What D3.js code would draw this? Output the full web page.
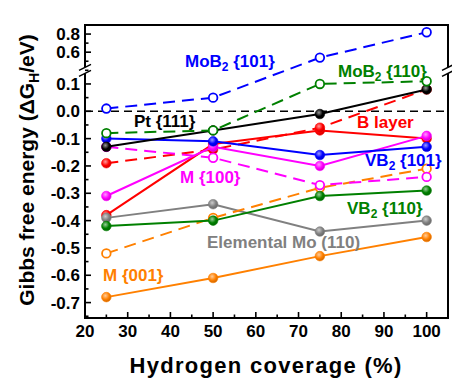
<!DOCTYPE html>
<html>
<head>
<meta charset="utf-8">
<script src="https://cdn.jsdelivr.net/npm/d3@7"></script>
<style>
    body { margin: 0; background: #fff; }
    text { font-family: "Liberation Sans", Arial, sans-serif; font-weight: bold; }
</style>
</head>
<body>
<div id="chart"></div>
<script>
const coverage = [25, 50, 75, 100];

const mob2_101 = [0.01, 0.05, 0.54, 0.82];
const mob2_110 = [-0.08, -0.07, 0.10, 0.11];
const pt111 = [-0.13, -0.07, -0.01, 0.08];
const bLayerSolid = [-0.38, -0.12, -0.07, -0.10];
const bLayerDashed = [-0.19, -0.14, -0.06, 0.08];
const vb2_101 = [-0.10, -0.11, -0.16, -0.13];
const m100Solid = [-0.31, -0.13, -0.20, -0.09];
const m100Dashed = [-0.13, -0.17, -0.27, -0.24];
const vb2_110 = [-0.42, -0.40, -0.31, -0.29];
const elementalMo = [-0.39, -0.34, -0.44, -0.40];
const m001Solid = [-0.68, -0.61, -0.53, -0.46];
const m001Dashed = [-0.52, -0.39, -0.28, -0.21];

const xTicks = [20, 30, 40, 50, 60, 70, 80, 90, 100];
const yTicksLow = [-0.7, -0.6, -0.5, -0.4, -0.3, -0.2, -0.1, 0.0, 0.1];
const yTicksHigh = [0.6, 0.8];

const series = [
    { values: bLayerSolid, color: '#ff0000', dashed: false, open: false },
    { values: bLayerDashed, color: '#ff0000', dashed: true, open: false },
    { values: elementalMo, color: '#808080', dashed: false, open: false },
    { values: m001Solid, color: '#ff8000', dashed: false, open: false },
    { values: m001Dashed, color: '#ff8000', dashed: true, open: true },
    { values: vb2_110, color: '#008000', dashed: false, open: false },
    { values: m100Dashed, color: '#ff00ff', dashed: true, open: true },
    { values: m100Solid, color: '#ff00ff', dashed: false, open: false },
    { values: vb2_101, color: '#0000ff', dashed: false, open: false },
    { values: pt111, color: '#000000', dashed: false, open: false },
    { values: mob2_110, color: '#008000', dashed: true, open: true },
    { values: mob2_101, color: '#0000ff', dashed: true, open: true }
];

const labels = [
    { text: 'MoB', sub: '2', rest: ' {101}', x: 185, y: 67, color: '#0000ff' },
    { text: 'MoB', sub: '2', rest: ' {110}', x: 338, y: 77, color: '#008000' },
    { text: 'Pt {111}', x: 134, y: 127, color: '#000000' },
    { text: 'B layer', x: 357, y: 128, color: '#ff0000' },
    { text: 'VB', sub: '2', rest: ' {101}', x: 365, y: 166, color: '#0000ff' },
    { text: 'M {100}', x: 180, y: 183, color: '#ff00ff' },
    { text: 'VB', sub: '2', rest: ' {110}', x: 347, y: 214, color: '#008000' },
    { text: 'Elemental Mo (110)', x: 207, y: 248, color: '#808080' },
    { text: 'M {001}', x: 103, y: 281, color: '#ff8000' }
];

const W = 452, H = 381;
const pLeft = 85, pRight = 448, pTop = 25, pBottom = 318, breakY = 70.3;

const svg = d3.select('#chart')
    .append('svg')
    .attr('width', W)
    .attr('height', H);

const defs = svg.append('defs');
const colors = Array.from(new Set(series.filter((s) => !s.open).map((s) => s.color)));
colors.forEach((c, i) => {
    const g = defs.append('radialGradient')
        .attr('id', 'ball' + i)
        .attr('cx', '40%').attr('cy', '35%').attr('r', '65%');
    g.append('stop').attr('offset', '0%').attr('stop-color', d3.interpolateRgb(c, '#fff')(0.6));
    g.append('stop').attr('offset', '60%').attr('stop-color', c);
    g.append('stop').attr('offset', '100%').attr('stop-color', d3.color(c).darker(0.6));
});
const ballFill = (c) => 'url(#ball' + colors.indexOf(c) + ')';

const xScale = d3.scaleLinear().domain([20, 105]).range([pLeft, pRight]);
const yLow = d3.scaleLinear().domain([-0.7564, 0.15]).range([pBottom, breakY]);
const yHigh = d3.scaleLinear().domain([0.4, 0.9]).range([breakY, pTop]);
const yPos = (v) => (v > 0.3 ? yHigh(v) : yLow(v));

// 零线
svg.append('line')
    .attr('x1', pLeft).attr('x2', pRight)
    .attr('y1', yLow(0)).attr('y2', yLow(0))
    .attr('stroke', '#000')
    .attr('stroke-width', 1.6)
    .attr('stroke-dasharray', '8,5');

// 曲线
const line = d3.line()
    .x((d, i) => xScale(coverage[i]))
    .y((d) => yPos(d));

series.forEach((s) => {
    svg.append('path')
        .datum(s.values)
        .attr('d', line)
        .attr('fill', 'none')
        .attr('stroke', s.color)
        .attr('stroke-width', 2)
        .attr('stroke-dasharray', s.dashed ? '12,7' : null);

    svg.selectAll(null)
        .data(s.values)
        .enter()
        .append('circle')
        .attr('cx', (d, i) => xScale(coverage[i]))
        .attr('cy', (d) => yPos(d))
        .attr('r', s.open ? 4.3 : 4.8)
        .attr('fill', s.open ? '#fff' : ballFill(s.color))
        .attr('stroke', s.color)
        .attr('stroke-width', s.open ? 1.8 : 0.6);
});

// 坐标轴
const axisG = svg.append('g').attr('stroke', '#000').attr('stroke-width', 2).attr('fill', 'none');
axisG.append('line').attr('x1', pLeft).attr('x2', pRight).attr('y1', pBottom).attr('y2', pBottom);
axisG.append('line').attr('x1', pLeft).attr('x2', pRight).attr('y1', pTop).attr('y2', pTop);
[pLeft, pRight].forEach((x) => {
    axisG.append('line').attr('x1', x).attr('x2', x).attr('y1', pTop - 1).attr('y2', breakY - 3);
    axisG.append('line').attr('x1', x).attr('x2', x).attr('y1', breakY + 3).attr('y2', pBottom + 1);
    [-3, 3].forEach((o) => {
        svg.append('line')
            .attr('x1', x - 6).attr('x2', x + 6)
            .attr('y1', breakY + o + 3).attr('y2', breakY + o - 3)
            .attr('stroke', '#000').attr('stroke-width', 1.5);
    });
});

const tickG = svg.append('g').attr('stroke', '#000').attr('stroke-width', 1.6);
d3.range(20, 105, 5).forEach((v) => {
    const major = v % 10 === 0;
    tickG.append('line')
        .attr('x1', xScale(v)).attr('x2', xScale(v))
        .attr('y1', pBottom).attr('y2', pBottom - (major ? 6 : 3.5));
});
d3.range(-0.75, 0.16, 0.05).forEach((v) => {
    const major = Math.round(v * 100) % 10 === 0;
    tickG.append('line')
        .attr('x1', pLeft).attr('x2', pLeft + (major ? 6 : 3.5))
        .attr('y1', yLow(v)).attr('y2', yLow(v));
});
[0.5, 0.6, 0.7, 0.8].forEach((v) => {
    const major = yTicksHigh.includes(v);
    tickG.append('line')
        .attr('x1', pLeft).attr('x2', pLeft + (major ? 6 : 3.5))
        .attr('y1', yHigh(v)).attr('y2', yHigh(v));
});

svg.selectAll('.xt')
    .data(xTicks)
    .enter()
    .append('text')
    .attr('x', (d) => xScale(d))
    .attr('y', 337)
    .attr('text-anchor', 'middle')
    .attr('font-size', 17)
    .text((d) => d);

const yTickData = yTicksLow.map((v) => ({ v, y: yLow(v) }))
    .concat(yTicksHigh.map((v) => ({ v, y: yHigh(v) })));
svg.selectAll('.yt')
    .data(yTickData)
    .enter()
    .append('text')
    .attr('x', 80)
    .attr('y', (d) => d.y + 6)
    .attr('text-anchor', 'end')
    .attr('font-size', 17)
    .text((d) => d.v.toFixed(1));

// 标题
svg.append('text')
    .attr('x', 266)
    .attr('y', 373)
    .attr('text-anchor', 'middle')
    .attr('font-size', 22)
    .attr('letter-spacing', 1.3)
    .text('Hydrogen coverage (%)');

const yTitle = svg.append('text')
    .attr('transform', 'translate(34, 170) rotate(-90)')
    .attr('text-anchor', 'middle')
    .attr('font-size', 21);
yTitle.append('tspan').text('Gibbs free energy (ΔG');
yTitle.append('tspan').attr('font-size', 14).attr('dy', 5).text('H');
yTitle.append('tspan').attr('dy', -5).text('/eV)');

// 标注
labels.forEach((l) => {
    const t = svg.append('text')
        .attr('x', l.x)
        .attr('y', l.y)
        .attr('fill', l.color)
        .attr('font-size', 17);
    t.append('tspan').text(l.text);
    if (l.sub) {
        t.append('tspan').attr('font-size', 12).attr('dy', 4).text(l.sub);
        t.append('tspan').attr('dy', -4).text(l.rest);
    }
});
</script>
</body>
</html>
